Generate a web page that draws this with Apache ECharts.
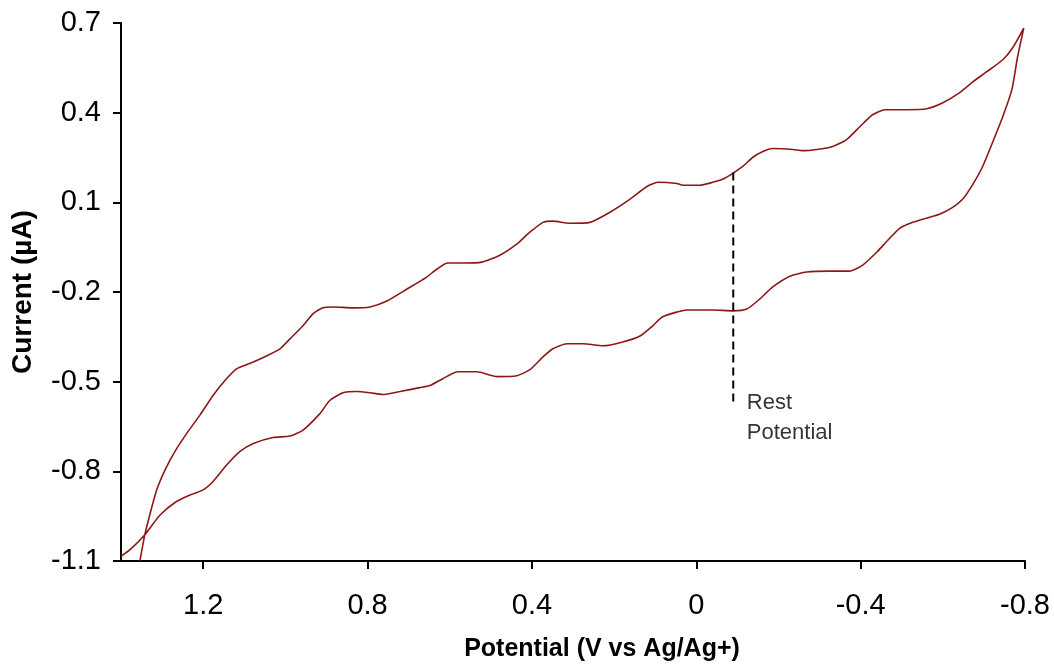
<!DOCTYPE html>
<html>
<head>
<meta charset="utf-8">
<title>Cyclic voltammogram</title>
<script src="https://cdn.jsdelivr.net/npm/echarts@6/dist/echarts.min.js"></script>
<style>
  html, body { margin: 0; padding: 0; background: #ffffff; }
  #chart { width: 1054px; height: 667px; }
</style>
</head>
<body>
<div id="chart"></div>
<script>
// Upper (anodic) branch, from the positive end to the switching potential
const upperPotential = [1.354, 1.342, 1.330, 1.313, 1.293, 1.269, 1.240, 1.208, 1.176, 1.147, 1.119, 1.078, 1.045, 1.013, 0.989, 0.957, 0.933, 0.909, 0.884, 0.836, 0.794, 0.753, 0.704, 0.656, 0.631, 0.605, 0.568, 0.522, 0.478, 0.437, 0.405, 0.373, 0.349, 0.308, 0.259, 0.210, 0.162, 0.120, 0.094, 0.047, 0.033, -0.009, -0.040, -0.064, -0.089, -0.113, -0.137, -0.162, -0.186, -0.235, -0.259, -0.293, -0.332, -0.366, -0.398, -0.429, -0.459, -0.512, -0.561, -0.600, -0.641, -0.673, -0.707, -0.746, -0.770, -0.797];
const upperCurrent = [-1.100, -1.012, -0.946, -0.862, -0.796, -0.734, -0.673, -0.612, -0.546, -0.496, -0.457, -0.434, -0.413, -0.390, -0.357, -0.313, -0.273, -0.253, -0.250, -0.253, -0.250, -0.230, -0.190, -0.150, -0.123, -0.103, -0.103, -0.100, -0.077, -0.040, 0.000, 0.033, 0.037, 0.030, 0.033, 0.067, 0.110, 0.153, 0.167, 0.163, 0.157, 0.157, 0.167, 0.177, 0.197, 0.220, 0.250, 0.270, 0.280, 0.277, 0.273, 0.277, 0.287, 0.310, 0.353, 0.393, 0.410, 0.410, 0.413, 0.433, 0.467, 0.503, 0.537, 0.577, 0.617, 0.683];

// Lower (return) branch, from the switching potential back to the positive end
const lowerPotential = [-0.797, -0.782, -0.768, -0.746, -0.721, -0.697, -0.673, -0.648, -0.624, -0.592, -0.568, -0.527, -0.495, -0.464, -0.439, -0.405, -0.373, -0.325, -0.269, -0.228, -0.186, -0.155, -0.123, -0.089, -0.040, -0.009, 0.023, 0.047, 0.082, 0.106, 0.137, 0.179, 0.227, 0.276, 0.315, 0.349, 0.373, 0.405, 0.437, 0.485, 0.534, 0.580, 0.617, 0.648, 0.673, 0.721, 0.763, 0.794, 0.826, 0.860, 0.892, 0.916, 0.957, 0.989, 1.030, 1.078, 1.111, 1.143, 1.176, 1.200, 1.232, 1.265, 1.305, 1.342, 1.378, 1.400];
const lowerCurrent = [0.683, 0.587, 0.477, 0.387, 0.300, 0.220, 0.160, 0.110, 0.083, 0.060, 0.050, 0.033, 0.013, -0.030, -0.067, -0.110, -0.130, -0.130, -0.133, -0.147, -0.183, -0.223, -0.257, -0.263, -0.260, -0.260, -0.260, -0.267, -0.283, -0.313, -0.347, -0.367, -0.380, -0.373, -0.373, -0.390, -0.417, -0.460, -0.480, -0.483, -0.467, -0.467, -0.490, -0.513, -0.520, -0.533, -0.543, -0.537, -0.533, -0.537, -0.563, -0.607, -0.662, -0.682, -0.687, -0.707, -0.734, -0.779, -0.834, -0.862, -0.879, -0.901, -0.946, -1.012, -1.062, -1.084];

// Rest potential marker: potential and the current span of the dashed line
const restPotential = -0.09;
const restSpan = [0.2, -0.573];
const restLabelAnchor = [-0.123, -0.62];

// Axis ticks
const potentialTicks = [-0.8, -0.4, 0, 0.4, 0.8, 1.2];
const currentTicks = [-1.1, -0.8, -0.5, -0.2, 0.1, 0.4, 0.7];

const zip = (xs, ys) => xs.map((x, i) => [x, ys[i]]);
const loop = zip(upperPotential, upperCurrent).concat(zip(lowerPotential, lowerCurrent));

const FONT = '"Liberation Sans", Arial, Helvetica, sans-serif';

const chart = echarts.init(document.getElementById('chart'), null, { renderer: 'canvas' });
chart.setOption({
  animation: false,
  backgroundColor: '#ffffff',
  grid: { left: 121, right: 29, top: 23, bottom: 104, containLabel: false },
  xAxis: {
    type: 'value',
    inverse: true,
    min: -0.8,
    max: 1.4,
    name: 'Potential (V vs Ag/Ag+)',
    nameLocation: 'middle',
    nameGap: 76,
    nameTextStyle: { fontFamily: FONT, fontSize: 25, fontWeight: 'bold', color: '#000', padding: [0, 0, 0, 58] },
    axisLine: { show: true, onZero: false, lineStyle: { color: '#000', width: 2 } },
    axisTick: { show: true, inside: false, length: 8, lineStyle: { color: '#000', width: 2 }, customValues: potentialTicks },
    axisLabel: { fontFamily: FONT, fontSize: 29, color: '#000', margin: 30, customValues: potentialTicks },
    splitLine: { show: false }
  },
  yAxis: {
    type: 'value',
    min: -1.1,
    max: 0.7,
    name: 'Current (µA)',
    nameLocation: 'middle',
    nameGap: 84,
    nameTextStyle: { fontFamily: FONT, fontSize: 28, fontWeight: 'bold', color: '#000' },
    axisLine: { show: true, onZero: false, lineStyle: { color: '#000', width: 2 } },
    axisTick: { show: true, inside: false, length: 8, lineStyle: { color: '#000', width: 2 }, customValues: currentTicks },
    axisLabel: { fontFamily: FONT, fontSize: 29, color: '#000', margin: 20, customValues: currentTicks },
    splitLine: { show: false }
  },
  series: [
    {
      name: 'CV',
      type: 'line',
      data: loop,
      showSymbol: false,
      smooth: 0.2,
      clip: true,
      lineStyle: { color: '#8c1818', width: 1.6 }
    },
    {
      name: 'Rest potential',
      type: 'line',
      data: restSpan.map(c => [restPotential, c]),
      showSymbol: false,
      lineStyle: { color: '#000', width: 2, type: [8, 5] }
    },
    {
      name: 'Rest label',
      type: 'scatter',
      data: [restLabelAnchor],
      symbolSize: 0,
      label: {
        show: true,
        position: 'right',
        distance: 0,
        formatter: 'Rest\nPotential',
        fontFamily: FONT,
        fontSize: 22,
        lineHeight: 30,
        color: '#000',
        letterSpacing: -0.5
      }
    }
  ]
});
</script>
</body>
</html>
